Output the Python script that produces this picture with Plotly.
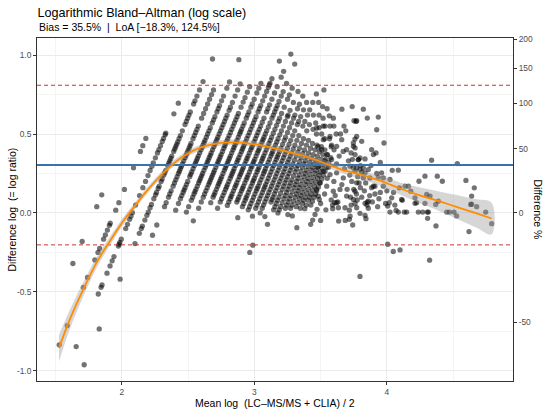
import numpy as np
import plotly.graph_objects as go

# ---------------- data ----------------
title_text = "Logarithmic Bland–Altman (log scale)"
subtitle_text = "Bias = 35.5%  |  LoA [−18.3%, 124.5%]"
bias_pct = 35.5
loa_low_pct = -18.3
loa_high_pct = 124.5

# CLIA levels (integer-valued reference) and the log ratios observed on each level
clia_levels = [6, 7, 8, 9, 10, 11, 12, 13, 14, 15, 16, 17, 18, 19, 20,
               21, 22, 23, 24, 25, 26, 27, 28, 29, 30]
log_ratio_by_level = [
    [-0.32, -0.18, 0.04, 0.115],
    [-0.835, -0.713, -0.471, -0.408, -0.297, -0.25, -0.225, -0.166, -0.139, -0.108,
     -0.078, -0.065, 0.018, 0.065, 0.149, 0.286, 0.39, 0.426, 0.472],
    [-0.846, -0.513, -0.471, -0.456, -0.381, -0.335, -0.303, -0.276, -0.209, -0.198,
     -0.187, -0.166, -0.099, -0.072, -0.04, -0.02, 0.002, 0.05, 0.11, 0.16, 0.2,
     0.237, 0.269, 0.296, 0.317, 0.349, 0.38, 0.401, 0.426, 0.453, 0.472, 0.496,
     0.506, 0.628, 0.695],
    [-0.961, -0.734, -0.419, -0.194, -0.129, -0.099, -0.083, -0.045, -0.015, 0.006,
     0.033, 0.054, 0.09, 0.13, 0.17, 0.2, 0.24, 0.27, 0.3, 0.33, 0.36, 0.39, 0.42,
     0.45, 0.49, 0.52, 0.56, 0.6, 0.64, 0.69, 0.74, 0.779, 0.832, 0.975,
     0.115, 0.155, 0.215, 0.255, 0.315, 0.345, 0.405, 0.435, 0.47, 0.58, 0.62, 0.71],
    [-0.141, -0.076, 0.04, 0.065, 0.1, 0.14, 0.17, 0.21, 0.25, 0.28, 0.31, 0.35,
     0.38, 0.41, 0.44, 0.47, 0.51, 0.55, 0.6, 0.66, 0.72, 0.779,
     0.12, 0.19, 0.23, 0.265, 0.295, 0.33, 0.365, 0.395, 0.425, 0.49, 0.53, 0.63,
     0.69, 0.75],
    [0.018, 0.06, 0.09, 0.13, 0.16, 0.2, 0.23, 0.26, 0.3, 0.33, 0.36, 0.4, 0.43,
     0.46, 0.5, 0.54, 0.57, 0.61, 0.66, 0.71, 0.79, 0.971,
     0.11, 0.145, 0.18, 0.245, 0.28, 0.315, 0.345, 0.38, 0.415, 0.445, 0.48, 0.52,
     0.59, 0.68, 0.64, 0.74, 0.83],
    [0.006, 0.04, 0.08, 0.12, 0.15, 0.19, 0.22, 0.25, 0.29, 0.32, 0.35, 0.38, 0.42,
     0.45, 0.48, 0.52, 0.56, 0.6, 0.65, 0.7, 0.779, 0.817,
     0.1, 0.135, 0.17, 0.205, 0.235, 0.27, 0.305, 0.335, 0.365, 0.4, 0.435, 0.465,
     0.5, 0.54, 0.62, 0.58, 0.67, 0.74],
    [-0.05, 0.03, 0.07, 0.1, 0.14, 0.18, 0.21, 0.24, 0.27, 0.31, 0.34, 0.37, 0.41,
     0.44, 0.47, 0.51, 0.55, 0.59, 0.63, 0.702, 0.765,
     0.12, 0.16, 0.195, 0.225, 0.255, 0.29, 0.325, 0.355, 0.39, 0.425, 0.455, 0.49,
     0.53, 0.61, 0.67, 0.57, 0.73, 0.8],
    [0.065, 0.1, 0.13, 0.17, 0.2, 0.23, 0.27, 0.3, 0.33, 0.36, 0.4, 0.43, 0.46, 0.5,
     0.53, 0.57, 0.62, 0.67, 0.72, 0.821,
     0.115, 0.15, 0.185, 0.215, 0.25, 0.285, 0.315, 0.345, 0.38, 0.415, 0.445, 0.48,
     0.515, 0.55, 0.6, 0.69, 0.64, 0.76, 0.79],
    [0.03, 0.07, 0.11, 0.15, 0.18, 0.22, 0.25, 0.28, 0.32, 0.35, 0.39, 0.42, 0.45,
     0.49, 0.53, 0.57, 0.61, 0.66, 0.71, 0.796, 0.811, 0.821, 0.962,
     0.09, 0.13, 0.165, 0.2, 0.235, 0.265, 0.3, 0.335, 0.37, 0.405, 0.435, 0.47,
     0.51, 0.55, 0.59, 0.64, 0.74, 0.68, 0.77, 0.85],
    [0.048, 0.09, 0.12, 0.16, 0.19, 0.23, 0.26, 0.29, 0.33, 0.36, 0.4, 0.43, 0.47,
     0.51, 0.55, 0.6, 0.685, 0.897, 1.006,
     0.07, 0.105, 0.14, 0.175, 0.21, 0.245, 0.275, 0.31, 0.345, 0.38, 0.415, 0.45,
     0.49, 0.53, 0.575, 0.64, 0.76, 0.66, 0.72, 0.8, 0.86],
    [0.069, 0.1, 0.14, 0.17, 0.21, 0.24, 0.28, 0.31, 0.34, 0.38, 0.41, 0.45, 0.48,
     0.52, 0.57, 0.62, 0.706, 0.769, 0.943,
     0.085, 0.12, 0.155, 0.19, 0.225, 0.26, 0.295, 0.325, 0.36, 0.395, 0.43, 0.465,
     0.5, 0.545, 0.6, 0.66, 0.64, 0.68, 0.74, 0.82],
    [-0.03, 0.04, 0.08, 0.11, 0.15, 0.19, 0.22, 0.26, 0.29, 0.33, 0.36, 0.4, 0.44,
     0.48, 0.53, 0.58, 0.72, 0.748,
     0.06, 0.095, 0.13, 0.17, 0.205, 0.24, 0.275, 0.31, 0.345, 0.38, 0.42, 0.46,
     0.505, 0.555, 0.63, 0.6, 0.67, 0.79],
    [0.02, 0.06, 0.1, 0.14, 0.17, 0.21, 0.25, 0.28, 0.32, 0.36, 0.39, 0.43, 0.47,
     0.52, 0.58, 0.65,
     0.04, 0.08, 0.12, 0.155, 0.19, 0.23, 0.265, 0.3, 0.34, 0.375, 0.41, 0.45,
     0.495, 0.55, 0.61, 0.62, 0.7, 0.77],
    [-0.02, 0.03, 0.07, 0.11, 0.15, 0.18, 0.22, 0.26, 0.3, 0.34, 0.37, 0.41, 0.46,
     0.51, 0.57, 0.689,
     0.05, 0.09, 0.13, 0.165, 0.2, 0.24, 0.28, 0.32, 0.355, 0.39, 0.435, 0.48,
     0.54, 0.62, 0.6, 0.66, 0.74],
    [0.0, 0.05, 0.09, 0.13, 0.17, 0.21, 0.25, 0.29, 0.33, 0.37, 0.41, 0.46, 0.52, 0.653,
     0.03, 0.07, 0.11, 0.15, 0.19, 0.23, 0.27, 0.31, 0.35, 0.39, 0.435, 0.49, 0.58,
     0.56, 0.61, 0.7],
    [-0.25, -0.204, -0.023, 0.069, 0.1, 0.14, 0.18, 0.22, 0.26, 0.3, 0.34, 0.38,
     0.43, 0.49, 0.653, 0.754,
     0.085, 0.12, 0.16, 0.2, 0.24, 0.28, 0.32, 0.36, 0.405, 0.46, 0.55, 0.58, 0.62, 0.7],
    [-0.072, 0.02, 0.06, 0.1, 0.15, 0.19, 0.23, 0.27, 0.31, 0.36, 0.41, 0.47, 0.779,
     0.04, 0.08, 0.125, 0.17, 0.21, 0.25, 0.29, 0.335, 0.385, 0.44, 0.52, 0.56, 0.62, 0.7],
    [0.0, 0.04, 0.09, 0.13, 0.17, 0.21, 0.26, 0.3, 0.35, 0.4, 0.46, 0.674,
     0.02, 0.065, 0.11, 0.15, 0.19, 0.235, 0.28, 0.325, 0.375, 0.43, 0.53, 0.57, 0.62],
    [0.03, 0.07, 0.11, 0.16, 0.2, 0.24, 0.29, 0.33, 0.38, 0.44, 0.6,
     0.05, 0.09, 0.135, 0.18, 0.22, 0.265, 0.31, 0.355, 0.41, 0.5, 0.54, 0.66],
    [-0.01, 0.05, 0.1, 0.14, 0.18, 0.23, 0.27, 0.32, 0.37, 0.43, 0.615,
     0.03, 0.075, 0.12, 0.16, 0.205, 0.25, 0.295, 0.345, 0.4, 0.5, 0.55],
    [-0.019, 0.04, 0.09, 0.13, 0.18, 0.22, 0.27, 0.31, 0.36, 0.42, 0.55,
     0.065, 0.11, 0.155, 0.2, 0.245, 0.29, 0.335, 0.39, 0.47, 0.6],
    [0.06, 0.1, 0.15, 0.2, 0.25, 0.29, 0.34, 0.4, 0.657,
     0.03, 0.08, 0.125, 0.175, 0.225, 0.27, 0.315, 0.37, 0.47],
    [-0.093, 0.027, 0.08, 0.12, 0.17, 0.22, 0.26, 0.31, 0.37, 0.5,
     0.05, 0.1, 0.145, 0.195, 0.24, 0.285, 0.34, 0.43],
    [0.05, 0.1, 0.14, 0.19, 0.24, 0.29, 0.35, 0.674,
     0.075, 0.12, 0.165, 0.215, 0.265, 0.32, 0.4, 0.55],
]

# higher-concentration points (mean log, difference log), read directly
mean_log_hi = [
    3.425, 3.44, 3.458, 3.473, 3.5, 3.591, 3.606, 3.621, 3.58, 3.49,
    3.636, 3.686, 3.717, 3.717, 3.742, 3.776, 3.797, 3.797,
    3.722, 3.835, 3.842, 3.835, 3.852, 3.86, 4.006, 4.018, 4.023, 4.069,
    4.086, 4.116, 4.131, 4.149, 4.006, 4.048, 4.099, 4.212, 4.237, 4.27,
    4.287, 4.305, 4.313, 4.307, 4.322, 4.37, 4.368, 4.451, 4.471, 4.506,
    4.526, 4.619, 4.639, 4.677, 4.745, 4.79,
    3.822, 3.752, 3.767, 3.852, 3.935, 3.923, 3.81, 3.978, 3.759, 3.747,
    3.76, 3.885, 3.898, 3.918, 3.797, 3.785, 3.835, 3.722, 3.747, 3.772,
    3.76, 3.797, 3.822, 3.81, 3.835, 3.86, 3.96, 3.923, 3.973, 3.935,
    3.822, 3.872, 3.898, 3.885, 3.91, 3.973, 4.023, 4.086, 4.036, 4.094,
    4.111, 4.137, 4.162, 4.18, 4.242, 4.287, 4.337, 4.38, 4.418, 4.3,
    4.325, 4.224, 4.212, 4.388, 4.531, 4.596, 4.659, 4.639, 4.632,
    3.735, 3.75, 3.77, 3.79, 3.81, 3.83, 3.85, 3.87, 3.89, 3.91,
    3.94, 3.95, 3.99, 3.725, 3.76, 3.8, 3.84, 3.86, 3.93, 3.72,
    3.78, 3.74, 3.76, 3.8, 3.88, 3.95, 4.0, 4.05, 4.04, 4.06,
    3.772, 3.47, 3.521, 3.571, 3.621, 3.659, 3.696, 3.747, 3.772, 3.508,
    3.546, 3.583, 3.483, 3.521, 3.571, 3.621, 3.671, 3.772, 3.784, 3.495,
    3.546, 3.596, 3.646, 3.696, 3.747, 3.759, 3.483, 3.634, 3.684, 3.772,
    3.48, 3.53, 3.56, 3.6, 3.62, 3.64, 3.66, 3.68, 3.7, 3.71,
    3.73, 3.53, 3.55, 3.59, 3.61, 3.63, 3.47, 3.5, 3.52, 3.6,
    3.65, 3.69, 3.58, 3.67, 3.73, 3.54,
]
diff_log_hi = [
    -0.072, -0.045, -0.009, 0.023, -0.047, 0.027, 0.065, 0.065, 0.082, 0.086,
    -0.051, -0.047, 0.018, -0.04, -0.076, 0.082, -0.002, -0.402,
    -0.02, -0.015, -0.036, 0.061, 0.069, 0.075, 0.044, 0.065, 0.006, 0.016,
    0.006, 0.08, 0.006, 0.006, -0.198, -0.244, -0.234, 0.061, 0.006, 0.006,
    0.061, 0.006, 0.006, -0.034, -0.299, -0.082, 0.054, 0.006, 0.006, 0.006,
    -0.019, -0.118, 0.056, 0.04, 0.006, -0.068,
    0.657, 0.584, 0.58, 0.601, 0.607, 0.527, 0.454, 0.443, 0.468, 0.422,
    0.412, 0.401, 0.37, 0.38, 0.348, 0.338, 0.342, 0.296, 0.285, 0.285,
    0.264, 0.275, 0.285, 0.258, 0.254, 0.275, 0.254, 0.25, 0.222, 0.226,
    0.222, 0.222, 0.17, 0.16, 0.17, 0.17, 0.212, 0.271, 0.096, 0.159,
    0.086, 0.17, 0.17, 0.138, 0.201, 0.233, 0.334, 0.233, 0.201, 0.117,
    0.107, 0.065, 0.096, 0.075, 0.313, 0.206, 0.159, 0.107, 0.054,
    0.2, 0.15, 0.12, 0.19, 0.1, 0.14, 0.05, 0.11, 0.07, 0.12,
    0.09, 0.13, 0.06, 0.1, 0.06, 0.16, 0.19, 0.03, 0.04, 0.24,
    0.23, 0.34, 0.37, 0.3, 0.3, 0.32, 0.14, 0.13, 0.27, 0.05,
    0.584, 0.538, 0.464, 0.485, 0.422, 0.464, 0.401, 0.443, 0.485, 0.401,
    0.37, 0.338, 0.296, 0.264, 0.243, 0.254, 0.222, 0.191, 0.338, 0.191,
    0.17, 0.138, 0.149, 0.107, 0.086, 0.138, 0.107, 0.033, 0.033, 0.033,
    0.42, 0.33, 0.29, 0.2, 0.31, 0.36, 0.18, 0.28, 0.15, 0.33,
    0.05, 0.12, 0.22, 0.05, 0.11, 0.07, 0.15, 0.06, 0.55, 0.55,
    0.5, 0.52, 0.42, 0.39, 0.38, 0.02,
]

# LOESS fit and its standard-error half width
smooth_x = [1.527, 1.61, 1.711, 1.811, 1.912, 2.012, 2.1, 2.188, 2.314, 2.44,
            2.54, 2.641, 2.766, 2.892, 3.018, 3.143, 3.269, 3.395, 3.52, 3.646,
            3.76, 3.86, 3.973, 4.099, 4.224, 4.35, 4.476, 4.576, 4.677, 4.79]
smooth_y = [-0.856, -0.671, -0.482, -0.313, -0.177, -0.051, 0.045, 0.138, 0.254, 0.345,
            0.395, 0.426, 0.445, 0.446, 0.433, 0.411, 0.384, 0.356, 0.318, 0.278,
            0.252, 0.228, 0.197, 0.155, 0.118, 0.086, 0.052, 0.025, -0.003, -0.035]
smooth_se = [0.085, 0.06, 0.045, 0.035, 0.028, 0.024, 0.022, 0.02, 0.02, 0.019,
             0.018, 0.018, 0.018, 0.018, 0.018, 0.018, 0.018, 0.018, 0.02, 0.022,
             0.025, 0.028, 0.032, 0.038, 0.048, 0.058, 0.07, 0.08, 0.09, 0.1]

log_ticks = [-1.0, -0.5, 0.0, 0.5, 1.0]
log_tick_labels = ["-1.0", "-0.5", "0.0", "0.5", "1.0"]
log_minor = [-0.75, -0.25, 0.25, 0.75]
mean_ticks = [2, 3, 4]
mean_minor = [1.5, 2.5, 3.5, 4.5]
pct_ticks = [-50, 0, 50, 100, 150, 200]

x_range = [1.361, 4.951]
y_range = [-1.064, 1.108]

# ---------------- derived values ----------------
mean_log = [np.log(b) + d / 2 for b, ds in zip(clia_levels, log_ratio_by_level) for d in ds]
diff_log = [d for ds in log_ratio_by_level for d in ds]
mean_log += mean_log_hi
diff_log += diff_log_hi

bias = np.log1p(bias_pct / 100)
loa_low = np.log1p(loa_low_pct / 100)
loa_high = np.log1p(loa_high_pct / 100)

sx = np.array(smooth_x)
sy = np.array(smooth_y)
se = np.array(smooth_se)

FONT = "Liberation Sans, Arial, Helvetica, sans-serif"
W, H = 550, 413
L, R, T, B = 37, 37, 38, 32
pw, ph = W - L - R, H - T - B

fig = go.Figure()

fig.add_trace(go.Scatter(
    x=mean_log, y=diff_log, mode="markers",
    marker=dict(color="rgba(0,0,0,0.55)", size=5.3, line=dict(width=0)),
    hoverinfo="skip", showlegend=False))

for val, col, dash, w in [(loa_high, "#CC3333", "4px,3px", 1.0),
                          (loa_low, "#CC3333", "4px,3px", 1.0),
                          (bias, "#3873AE", "solid", 1.8)]:
    fig.add_trace(go.Scatter(
        x=x_range, y=[val, val], mode="lines",
        line=dict(color=col, width=w, dash=dash),
        hoverinfo="skip", showlegend=False))

fig.add_trace(go.Scatter(
    x=np.concatenate([sx, sx[::-1]]),
    y=np.concatenate([sy + se, (sy - se)[::-1]]),
    mode="lines", fill="toself", fillcolor="rgba(153,153,153,0.4)",
    line=dict(width=0, shape="spline"), hoverinfo="skip", showlegend=False))

fig.add_trace(go.Scatter(
    x=sx, y=sy, mode="lines",
    line=dict(color="#FF8C00", width=1.8, shape="spline"),
    hoverinfo="skip", showlegend=False))

# dummy trace to activate the secondary axis
fig.add_trace(go.Scatter(x=[None], y=[None], yaxis="y2", mode="markers",
                         showlegend=False, hoverinfo="skip"))

axis_common = dict(
    ticks="outside", ticklen=3, tickwidth=1, tickcolor="#333333",
    tickfont=dict(family=FONT, size=8.4, color="#4D4D4D"),
    showgrid=True, gridcolor="#EBEBEB", gridwidth=1, automargin=False,
    zeroline=False, showline=True, linecolor="#333333", linewidth=1, mirror=True,
)

fig.update_layout(
    width=W, height=H,
    margin=dict(l=L, r=R, t=T, b=B, pad=0, autoexpand=False),
    paper_bgcolor="white", plot_bgcolor="white",
    font=dict(family=FONT, color="black"),
    title=dict(text=title_text, x=L / W + 0.001, xanchor="left", xref="container",
               y=1 - 13 / H, yanchor="middle", yref="container",
               font=dict(family=FONT, size=12.6, color="black")),
    xaxis=dict(range=x_range, tickvals=mean_ticks,
               minor=dict(tickvals=mean_minor, showgrid=True, gridcolor="#F4F4F4",
                          gridwidth=0.6, ticks=""),
               **axis_common),
    yaxis=dict(range=y_range, tickvals=log_ticks, ticktext=log_tick_labels,
               minor=dict(tickvals=log_minor, showgrid=True, gridcolor="#F4F4F4",
                          gridwidth=0.6, ticks=""),
               **axis_common),
    yaxis2=dict(range=y_range, overlaying="y", side="right", automargin=False,
                tickvals=list(np.log1p(np.array(pct_ticks) / 100)),
                ticktext=[str(p) for p in pct_ticks],
                ticks="outside", ticklen=3, tickwidth=1, tickcolor="#333333",
                tickfont=dict(family=FONT, size=8.4, color="#4D4D4D"),
                showgrid=False, zeroline=False, showline=False),
    annotations=[
        dict(text=subtitle_text, xref="paper", yref="paper",
             x=0, y=(H - B - 27) / ph, xanchor="left", yanchor="middle",
             showarrow=False, font=dict(family=FONT, size=10.5, color="black")),
        dict(text="Difference log\u00a0 (= log ratio)", xref="paper", yref="paper",
             x=(11 - L) / pw, y=0.5, textangle=-90, xanchor="center", yanchor="middle",
             showarrow=False, font=dict(family=FONT, size=10.5, color="black")),
        dict(text="Difference %", xref="paper", yref="paper",
             x=(538 - L) / pw, y=0.5, textangle=90, xanchor="center", yanchor="middle",
             showarrow=False, font=dict(family=FONT, size=10.5, color="black")),
        dict(text="Mean log\u00a0 (LC–MS/MS + CLIA) / 2", xref="paper", yref="paper",
             x=0.5, y=(H - B - 403) / ph, xanchor="center", yanchor="middle",
             showarrow=False, font=dict(family=FONT, size=10.5, color="black")),
    ],
)

fig.write_html("out.html", config={"displayModeBar": False},
               post_script="document.body.style.margin='0px';")
